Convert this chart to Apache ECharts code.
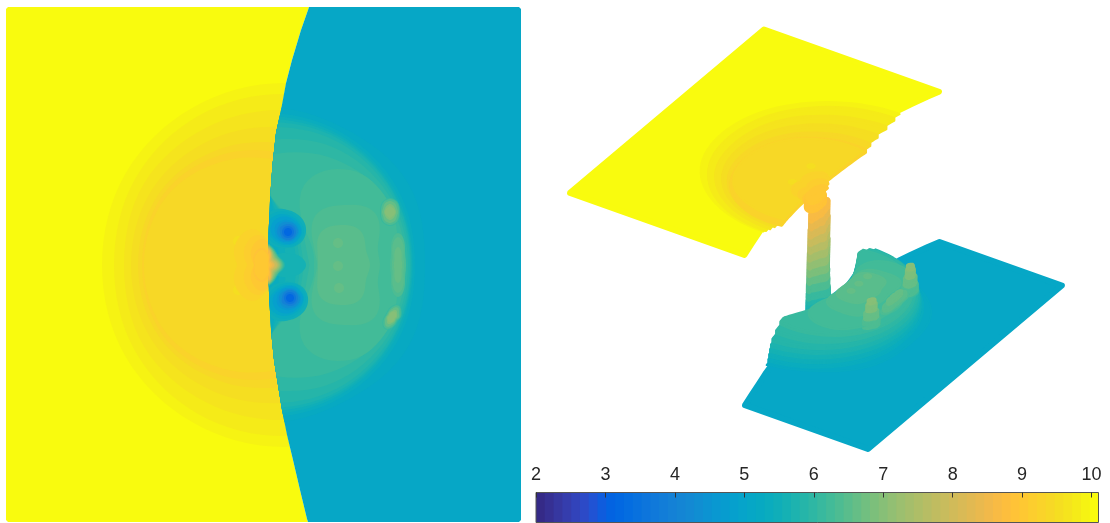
<!DOCTYPE html>
<html><head><meta charset="utf-8">
<style>html,body{margin:0;padding:0;background:#fff}#c{width:1110px;height:523px}</style>
<script src="https://cdn.jsdelivr.net/npm/echarts@6/dist/echarts.min.js"></script>
</head><body><div id="c"></div>
<script>
// colour scale (parula, 64 steps)
const parula=[[.2081,.1663,.5292],[.2116,.1898,.5777],[.2123,.2138,.627],[.2081,.2386,.6771],[.1959,.2645,.7279],[.1707,.2919,.7792],[.1253,.3242,.8303],[.0591,.3598,.8683],[.0117,.3875,.882],[.006,.4086,.8828],[.0165,.4266,.8786],[.0329,.443,.872],[.0498,.4586,.8641],[.0629,.4737,.8554],[.0723,.4887,.8467],[.0779,.504,.8384],[.0793,.52,.8312],[.0749,.5375,.8263],[.0641,.557,.824],[.0488,.5772,.8228],[.0343,.5966,.8199],[.0265,.6137,.8135],[.0239,.6287,.8038],[.0231,.6418,.7913],[.0228,.6535,.7768],[.0267,.6642,.7607],[.0384,.6743,.7436],[.059,.6838,.7254],[.0843,.6928,.7062],[.1133,.7015,.6859],[.1453,.7098,.6646],[.1801,.7177,.6424],[.2178,.725,.6193],[.2586,.7317,.5954],[.3022,.7376,.5712],[.3482,.7424,.5473],[.3953,.7459,.5244],[.442,.7481,.5033],[.4871,.7491,.484],[.53,.7491,.4661],[.5709,.7485,.4494],[.6099,.7473,.4337],[.6473,.7456,.4188],[.6834,.7435,.4044],[.7184,.7411,.3905],[.7525,.7384,.3768],[.7858,.7356,.3633],[.8185,.7327,.3498],[.8507,.7299,.336],[.8824,.7274,.3217],[.9139,.7258,.3063],[.945,.7261,.2886],[.9739,.7314,.2666],[.9938,.7455,.2403],[.999,.7653,.2164],[.9955,.7861,.1967],[.988,.8066,.1794],[.9789,.8271,.1633],[.9697,.8481,.1475],[.9626,.8705,.1309],[.9589,.8949,.1132],[.9598,.9218,.0948],[.9661,.9514,.0755],[.9763,.9831,.0538]];
const colorMin=2, colorMax=10.1;
const colorTicks=[2,3,4,5,6,7,8,9,10];

// front position: x at each y
const shockY=[7,10,30,60,83,110,133,165,200,235,265,293,330,360,385,410,435,460,490,519,522];
const shockX=[309,308,301,292,286,281,276,272.5,270,268.5,268,269,271,274,278,282,287,293,300,307,308];
const highValue=10, lowValue=5.1;

// dip of the raised region next to the front, between the two low spots
const mapDipY=[196,214,232,265,298,316,334];
const mapDipX=[0,14,30,36,30,14,0];
const surfaceDipY=[165,190,212,232,265,298,318,340,365];
const surfaceDipX=[0,14,26,36,38,36,26,14,0];
const dipLevels=[5.48,5.61,5.73,5.86,5.99,6.11];
const dipScale=[.3,.5,.8,.9,1,1.15];

// contours: value, centre x, centre y, side of the front (-1 left, 1 right, 0 free), radii every 30 degrees
const bowlContours=[
 [9.91,284,265,-1,[182,182,182,182,182,183,182,183,182,182,182,182]],
 [9.79,284,265,-1,[170,170,170,171,172,172,170,172,172,171,170,170]],
 [9.66,284,265,-1,[155,155,155,155,158,162,160,162,158,155,155,155]],
 [9.53,284,265,-1,[138,138,138,138,145,152,153,152,145,138,138,138]],
 [9.41,284,265,-1,[120,120,120,122,133,144,146,144,133,122,120,120]],
 [9.28,284,265,-1,[108,108,108,112,127,140,142,140,127,112,108,108]],
 [9.41,284,265,-1,[100,100,100,104,120,136,140,136,120,104,100,100]],
 [9.53,238,241,-1,[5,5,5,5,5,5,5,5,5,5,5,5]],
 [9.53,238,290,-1,[5,5,5,5,5,5,5,5,5,5,5,5]],
 [9.28,253,265,-1,[20,20,28,36,30,22,16,22,30,36,28,20]],
 [9.15,258,265,-1,[14,16,24,30,24,16,11,16,24,30,24,16]],
 [9.03,262,265,-1,[10,11,19,26,20,12,8,12,20,26,19,11]]
];
const domeContours=[
 [5.23,265,265,1,[160,165,158,158,158,158,158,158,158,158,158,165]],
 [5.35,265,265,1,[150,153,153,152,152,152,152,152,152,152,153,153]],
 [5.48,265,265,1,[148,150,150,149,149,149,149,149,149,149,150,150]],
 [5.61,265,265,1,[147,148,148,146,146,146,146,146,146,146,148,148]],
 [5.73,265,265,1,[146,147,146,143,143,143,143,143,143,143,146,147]],
 [5.86,265,265,1,[145,145,143,138,138,138,138,138,138,138,143,145]],
 [5.99,265,265,1,[143,142,136,125,125,125,125,125,125,125,136,142]],
 [6.11,265,265,1,[141,138,125,110,110,110,110,110,110,110,125,138]],
 [6.24,350,265,1,[53,55,75,95,92,46,36,46,92,95,75,55]],
 [6.37,345,265,1,[35,38,60,60,58,36,28,36,58,60,60,38]],
 [6.49,340,265,1,[30,30,40,40,38,26,22,26,38,40,40,30]],
 [6.62,338,243,1,[5,5,5,5,5,5,5,5,5,5,5,5]],
 [6.62,338,266,1,[5,5,5,5,5,5,5,5,5,5,5,5]],
 [6.62,339,288,1,[5,5,5,5,5,5,5,5,5,5,5,5]],
 [6.37,398,265,1,[8,9,14,32,14,9,8,9,14,32,14,9]],
 [6.49,398,265,1,[6,7,11,28,11,7,6,7,11,28,11,7]],
 [6.62,398,265,1,[4,5,7,18,7,5,4,5,7,18,7,5]],
 [6.11,390,212,1,[10,11,13,14,13,11,10,11,13,14,13,11]],
 [6.37,390,212,1,[9,10,12,13,12,10,9,10,12,13,12,10]],
 [6.62,390,212,1,[8,8,10,11,10,8,8,8,10,11,10,8]],
 [6.87,390,212,1,[6,6,7,8,7,6,6,6,7,8,7,6]],
 [7.0,390,212,1,[5,5,5,6,5,5,5,5,5,6,5,5]],
 [6.11,392,317,1,[9,11,14,11,8,7,8,11,14,11,8,7]],
 [6.37,392,317,1,[8,10,13,10,7,6,7,10,13,10,7,6]],
 [6.62,392,317,1,[7,8,11,8,6,5,6,8,11,8,6,5]],
 [6.87,392,317,1,[5,6,8,6,5,4,5,6,8,6,5,4]],
 [7.0,392,317,1,[4,5,6,5,4,3,4,5,6,5,4,3]]
];
// teal corridor between the low spots, flat map only
const corridorContours=[
 [5.61,290,265,1,[16,14,12,11,14,18,24,18,14,11,12,14]]
];
// low-density spots behind the front, upper one; the lower one is its mirror image
const lowSpotCentres=[[288,232],[290,298]];
const lowSpotLevels=[5.48,5.35,5.1,4.85,4.6,4.34,3.96,3.58,3.2];
const lowSpotRadii=[
 [18,19,20,22,26,28,26,22,18,16,16,17],
 [16,16,17,20,23,25,23,19,16,15,15,15],
 [14,14,15,17,20,22,20,16,14,13,13,13],
 [13,13,13,15,17,18,17,14,12,12,12,12],
 [11,11,11,12,13,14,13,12,11,10,10,10],
 [10,10,10,10,11,11,11,10,9,9,9,9],
 [8,8,8,8,8,9,8,8,8,8,8,8],
 [6,6,6,6,6,6,6,6,6,6,6,6],
 [4,4,4,4,4,4,4,4,4,4,4,4]
];
// foot of the column, surface view only
const footContours=[
 [5.1, 262,265,1,[24,19,21,24,24,20,18,20,24,24,21,19]],
 [5.23,262,265,1,[24,19,21,24,24,20,18,20,24,24,21,19]],
 [5.35,262,265,1,[24,19,21,24,24,20,18,20,24,24,21,19]],
 [5.48,262,265,1,[24,19,21,24,24,20,18,20,24,24,21,19]],
 [5.61,262,265,1,[24,19,21,24,24,20,18,20,24,24,21,19]],
 [5.73,262,265,1,[24,20,21,24,24,20,18,20,24,24,21,20]]
];
// lobe on the front, the column of the surface view
const lobeContours=[
 [5.86,262,265,1,[23,19,21,24,24,20,18,20,24,24,21,19]],
 [6.11,262,265,1,[22,18,20,24,24,20,18,20,24,24,20,18]],
 [6.37,262,265,1,[21,18,20,24,24,20,18,20,24,24,20,18]],
 [6.62,262,265,1,[20,17,19,23,23,20,18,20,23,23,19,17]],
 [6.87,262,265,1,[19,16,19,23,23,20,18,20,23,23,19,16]],
 [7.13,262,265,1,[18,15,18,23,23,20,18,20,23,23,18,15]],
 [7.38,262,265,1,[17,14,18,23,23,20,18,20,23,23,18,14]],
 [7.63,262,265,1,[16,13,17,22,22,20,18,20,22,22,17,13]],
 [7.88,262,265,1,[15,12,17,22,22,20,18,20,22,22,17,12]],
 [8.14,262,265,1,[13,11,16,22,22,20,18,20,22,22,16,11]],
 [8.39,262,265,1,[12,10,16,21,21,20,18,20,21,21,16,10]],
 [8.65,262,265,1,[10,9,15,21,21,20,18,20,21,21,15,9]],
 [8.9, 262,265,0,[8,8,13,17,14,10,8,10,14,17,13,8]],
 [9.03,262,265,0,[6,7,11,15,12,9,7,9,12,15,11,7]]
];

// view of the surface: how map x, map y and value fall on the page
const view={ox:764,oy:29.5,x0:9,y0:10,xx:.591,xy:.2104,yx:-.381,yy:.321,zx:-.6,zy:30.4};
function project(p,h){const dx=p[0]-view.x0,dy=p[1]-view.y0,dz=highValue-h;
 return [view.ox+view.xx*dx+view.yx*dy+view.zx*dz, view.oy+view.xy*dx+view.yy*dy+view.zy*dz];}

function lerpAt(xs,ys,x){
 if(x<=xs[0])return ys[0];
 for(let i=1;i<xs.length;i++) if(x<=xs[i]){
  const t=(x-xs[i-1])/(xs[i]-xs[i-1]);
  return ys[i-1]+t*(ys[i]-ys[i-1]);}
 return ys[ys.length-1];
}
const shockAt=y=>lerpAt(shockY,shockX,y);
function outline(cx,cy,side,radii,dip,dipYs,dipXs){
 const n=radii.length,pts=[],steps=8;
 for(let i=0;i<n;i++)for(let s=0;s<steps;s++){
  const t=s/steps,a=radii[(i+n-1)%n],b=radii[i],c=radii[(i+1)%n],d=radii[(i+2)%n];
  const r=.5*(2*b+(c-a)*t+(2*a-5*b+4*c-d)*t*t+(3*b-a-3*c+d)*t*t*t);
  const ang=(i+t)*2*Math.PI/n;
  let x=cx+r*Math.cos(ang),y=cy-r*Math.sin(ang);
  y=Math.max(7,Math.min(522,y));x=Math.max(6,Math.min(521,x));
  if(side>0)x=Math.max(x,shockAt(y)+dip*lerpAt(dipYs,dipXs,y));
  if(side<0)x=Math.min(x,shockAt(y));
  pts.push([x,y]);
 }
 return pts;
}
function fromContour(c){
 const k=c[1]===265?dipLevels.indexOf(c[0]):-1, dip=k<0?0:dipScale[k];
 return {v:c[0],cx:c[1],cy:c[2],
  pts:outline(c[1],c[2],c[3],c[4],dip,mapDipY,mapDipX),
  surf:outline(c[1],c[2],c[3],c[4],dip,surfaceDipY,surfaceDipX)};
}
const bowl=bowlContours.map(fromContour), dome=domeContours.map(fromContour),
      lobe=lobeContours.map(fromContour), foot=footContours.map(fromContour), corridor=corridorContours.map(fromContour);
const lowSpots=[];
lowSpotCentres.forEach((c,k)=>lowSpotLevels.forEach((v,i)=>{
 const r=k?lowSpotRadii[i].map((_,j,a)=>a[(12-j)%12]):lowSpotRadii[i];
 lowSpots.push({v,pts:outline(c[0],c[1],1,r,0,mapDipY,mapDipX)});
}));
const shockPts=shockY.map((y,i)=>[shockX[i],y]);
const mapHigh={v:highValue,pts:[[6,9],[8,7]].concat(shockPts,[[8,522],[6,520]])};
const mapLow={v:lowValue,pts:[[519,7],[521,9],[521,520],[519,522]].concat(shockPts.slice().reverse())};
const inner=shockPts.filter(p=>p[1]>=10&&p[1]<=519);
const plateHigh={v:highValue,surf:[[9,10]].concat(inner.map(p=>[p[0]-3,p[1]]),[[9,519]])};
const plateLow={v:lowValue,surf:[[518,10],[518,519]].concat(inner.slice().reverse().map(p=>[p[0]+3,p[1]]))};

const mapShapes=[mapHigh].concat(bowl,[mapLow],dome,corridor,lowSpots,lobe);

// surface view: every contour is lifted to its value and walled down to the level below it
function lifted(group,stroke,order){
 const out=[];
 group.forEach((s,i)=>{
  const p=group[i-1];
  let from=s.v;
  if(p&&p.cx===s.cx&&p.cy===s.cy&&(p.v-s.v)*order>0)from=p.v;
  const n=Math.max(1,Math.ceil(Math.abs(from-s.v)/.04));
  for(let k=n-1;k>=0;k--){
   const h=s.v+(from-s.v)*k/n;
   out.push({v:s.v,h,r:stroke,pts:s.surf.map(q=>project(q,h))});
  }
 });
 return out;
}
const rising=[].concat(lifted(foot.concat(lobe),6,-1),lifted([plateLow],6,-1),lifted(dome,2,-1))
 .sort((a,b)=>a.h-b.h);
const surfaceShapes=[].concat(lifted([plateHigh],6,1),lifted(bowl,2,1),rising);

function colorOf(v){
 let i=Math.floor((v-colorMin)/(colorMax-colorMin)*parula.length);
 i=Math.max(0,Math.min(parula.length-1,i));
 const c=parula[i];
 return 'rgb('+c.map(x=>Math.round(x*255)).join(',')+')';
}
function polySeries(shapes,gi){return {type:'custom',coordinateSystem:'cartesian2d',xAxisIndex:gi,yAxisIndex:gi,silent:true,animation:false,
 data:shapes.map(s=>[s.v]),
 renderItem(params,api){const s=shapes[params.dataIndex],c=colorOf(s.v);
  return {type:'polygon',shape:{points:s.pts.map(p=>api.coord(p))},
   style:{fill:c,stroke:s.r?c:null,lineWidth:s.r||0,lineJoin:'round'}};}};}

const barSteps=parula.map((_,i)=>colorMin+(i+.5)*(colorMax-colorMin)/parula.length);
const option={
 animation:false,backgroundColor:'#fff',
 grid:[{left:6,top:7,width:515,height:515},{left:530,top:10,width:560,height:460},{left:536,top:492.5,width:562.5,height:30}],
 xAxis:[
  {gridIndex:0,type:'value',min:6,max:521,show:false},
  {gridIndex:1,type:'value',min:530,max:1090,show:false},
  {gridIndex:2,type:'value',min:colorMin,max:colorMax,interval:1,position:'top',z:5,
   axisLine:{show:false,onZero:false},splitLine:{show:false},
   axisTick:{show:true,inside:true,length:5,lineStyle:{color:'#333',width:1},customValues:colorTicks},
   axisLabel:{show:true,margin:8,color:'#262626',fontSize:18,fontFamily:'"Liberation Sans",Helvetica,Arial,sans-serif',customValues:colorTicks,formatter:v=>String(v)}}
 ],
 yAxis:[
  {gridIndex:0,type:'value',min:7,max:522,inverse:true,show:false},
  {gridIndex:1,type:'value',min:10,max:470,inverse:true,show:false},
  {gridIndex:2,type:'value',min:0,max:1,show:false}
 ],
 series:[
  polySeries(mapShapes,0),
  polySeries(surfaceShapes,1),
  {type:'custom',coordinateSystem:'cartesian2d',xAxisIndex:2,yAxisIndex:2,silent:true,animation:false,z:2,
   data:barSteps.map(v=>[v,0]),
   renderItem(params,api){const w=(colorMax-colorMin)/parula.length,v=barSteps[params.dataIndex];
    const a=api.coord([v-w/2,1]),b=api.coord([v+w/2,0]);
    return {type:'rect',shape:{x:a[0],y:a[1],width:b[0]-a[0]+(params.dataIndex<parula.length-1?1:0),height:b[1]-a[1]},style:{fill:colorOf(v)}};}},
  {type:'custom',coordinateSystem:'cartesian2d',xAxisIndex:2,yAxisIndex:2,silent:true,animation:false,z:3,
   data:[[colorMin,0]],
   renderItem(params,api){const a=api.coord([colorMin,1]),b=api.coord([colorMax,0]);
    return {type:'rect',shape:{x:a[0],y:a[1],width:b[0]-a[0],height:b[1]-a[1]},style:{fill:null,stroke:'#555',lineWidth:1}};}}
 ]
};
const chart=echarts.init(document.getElementById('c'),null,{renderer:'canvas'});
chart.setOption(option);
</script></body></html>
